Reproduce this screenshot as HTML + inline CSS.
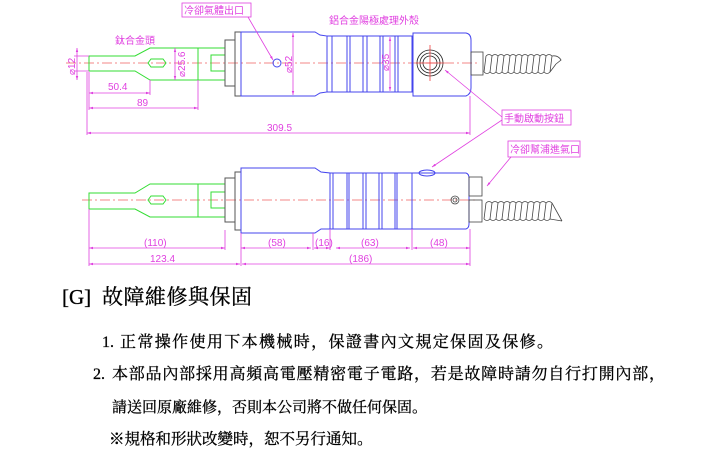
<!DOCTYPE html>
<html><head><meta charset="utf-8"><style>
html,body{margin:0;padding:0;background:#fff;}
svg{display:block;}
.m{fill:#e040e0;font-family:"Liberation Sans","Noto Sans CJK TC",sans-serif;font-size:10px;}
.t{fill:#000;font-family:"Liberation Serif","Noto Serif CJK SC","Noto Sans CJK TC",serif;stroke:#000;stroke-width:0.3;}
</style></head><body>
<svg width="712" height="459" viewBox="0 0 712 459" xmlns="http://www.w3.org/2000/svg">
<defs>
<marker id="a" viewBox="0 0 10 10" refX="10" refY="5" markerWidth="5" markerHeight="5" orient="auto-start-reverse"><path d="M0,2 L10,5 L0,8z" fill="#e040e0"/></marker>
</defs>
<!-- ========== TOP VIEW ========== -->
<line x1="66" y1="63" x2="478" y2="63" stroke="#f06060" stroke-width="0.8" stroke-dasharray="10,3,2,3"/>
<g fill="none" stroke="#33dd33" stroke-width="1">
<path d="M89,56 L135,56 L150,48 L198,48 L198,80 L150,80 L135,71 L89,71 Z"/>
<path d="M198,48 L225,48 M198,80 L225,80"/>
<path d="M151,59 L163,59 L166,63 L163,67 L151,67 L148,63 Z"/>
<path d="M225,55 L211,55 L211,71 L225,71"/>
</g>
<g fill="none" stroke="#555" stroke-width="1">
<rect x="225" y="40" width="10" height="46"/>
<rect x="235" y="32" width="6" height="64"/>
</g>
<g fill="none" stroke="#4444ee" stroke-width="1">
<path d="M241,32 L315,32 L320,35 L327,36 L327,92 L320,93 L315,96 L241,96 Z"/>
<path d="M327,36 L413,36 L413,92 L327,92"/>
<path d="M413,33 L466,33 Q471,34 471,40 L471,88 Q471,94 466,96 L413,96 Z"/>
<path d="M332,36V92 M347,36V92 M350,36V92 M363,36V92 M367,36V92 M380,36V92 M383,36V92 M395,36V92 M398,36V92 M412,36V92"/>
<circle cx="277" cy="63" r="4"/>
</g>
<g stroke="#222" fill="none" stroke-width="0.8">
<circle cx="430" cy="63" r="13"/><circle cx="430" cy="63" r="10"/><circle cx="430" cy="63" r="7"/>
</g>
<path d="M430,45 V81 M416,63 H444" stroke="#f04040" stroke-width="0.8"/>
<g fill="none" stroke="#444" stroke-width="0.8">
<rect x="471" y="52" width="12" height="23"/>
<path d="M486,56 l-2,16 M492,56 l-2,16 M498,56 l-2,16 M504,56 l-2,16 M510,56 l-2,16 M516,56 l-2,16 M522,56 l-2,16 M528,56 l-2,16 M534,56 l-2,16 M540,56 l-2,16 M546,56 l-2,16 M552,56 l-2,16"/>
<path d="M486,56 Q489,53 492,56 Q495,53 498,56 Q501,53 504,56 Q507,53 510,56 Q513,53 516,56 Q519,53 522,56 Q525,53 528,56 Q531,53 534,56 Q537,53 540,56 Q543,53 546,56 Q549,53 552,56 Q558,55 561,60 L556,64"/>
<path d="M484,72 Q487,75 490,72 Q493,75 496,72 Q499,75 502,72 Q505,75 508,72 Q511,75 514,72 Q517,75 520,72 Q523,75 526,72 Q529,75 532,72 Q535,75 538,72 Q541,75 544,72 Q547,75 550,72 L556,64"/>
</g>
<g stroke="#e040e0" stroke-width="0.8" fill="none">
<line x1="77" y1="48" x2="77" y2="80" marker-start="url(#a)" marker-end="url(#a)"/>
<path d="M74,56 H89 M74,71 H89"/>
<line x1="175" y1="48" x2="175" y2="80" marker-start="url(#a)" marker-end="url(#a)"/>
<line x1="293" y1="33" x2="293" y2="95" marker-start="url(#a)" marker-end="url(#a)"/>
<line x1="390" y1="37" x2="390" y2="91" marker-start="url(#a)" marker-end="url(#a)"/>
<path d="M89,72 V110 M150,80 V95 M198,80 V110 M87,72 V135 M470,96 V135"/>
<line x1="89" y1="93" x2="150" y2="93" marker-start="url(#a)" marker-end="url(#a)"/>
<line x1="89" y1="108" x2="198" y2="108" marker-start="url(#a)" marker-end="url(#a)"/>
<line x1="87" y1="133" x2="470" y2="133" marker-start="url(#a)" marker-end="url(#a)"/>
<rect x="182" y="3" width="69" height="14"/>
<line x1="248" y1="17" x2="273" y2="60" marker-end="url(#a)"/>
<rect x="502" y="110" width="69" height="15"/>
<line x1="502" y1="117" x2="445" y2="70" marker-end="url(#a)"/>
<line x1="502" y1="120" x2="432" y2="167" marker-end="url(#a)"/>
<rect x="508" y="141" width="72" height="16"/>
<line x1="511" y1="157" x2="487" y2="186" marker-end="url(#a)"/>
</g>
<text class="m" x="184" y="14" font-size="11">冷卻氣體出口</text>
<text class="m" x="115" y="44" font-size="11">鈦合金頭</text>
<text class="m" x="329" y="24" font-size="11">鋁合金陽極處理外殼</text>
<text class="m" x="504" y="122" font-size="11">手動啟動按鈕</text>
<text class="m" x="510" y="153" font-size="11">冷卻幫浦進氣口</text>
<text class="m" x="108" y="90">50.4</text>
<text class="m" x="137" y="106">89</text>
<text class="m" x="267" y="131">309.5</text>
<text class="m" transform="translate(75,75) rotate(-90)">⌀12</text>
<text class="m" transform="translate(185,77) rotate(-90)">⌀25.6</text>
<text class="m" transform="translate(292,73) rotate(-90)">⌀52</text>
<text class="m" transform="translate(389,71) rotate(-90)">⌀35</text>
<!-- ========== BOTTOM VIEW ========== -->
<line x1="82" y1="200" x2="478" y2="200" stroke="#f06060" stroke-width="0.8" stroke-dasharray="10,3,2,3"/>
<g fill="none" stroke="#33dd33" stroke-width="1">
<path d="M89,193 L135,193 L150,184 L198,184 L198,217 L150,217 L135,209 L89,209 Z"/>
<path d="M198,184 L225,184 M198,217 L225,217"/>
<path d="M151,196 L163,196 L166,200 L163,204 L151,204 L148,200 Z"/>
<path d="M225,192 L211,192 L211,208 L225,208"/>
</g>
<g fill="none" stroke="#555" stroke-width="1">
<rect x="225" y="178" width="10" height="44"/>
<rect x="235" y="172" width="6" height="58"/>
</g>
<g fill="none" stroke="#4444ee" stroke-width="1">
<path d="M241,168 L315,168 L321,172 L330,173 L330,229 L321,229 L315,233 L241,233 Z"/>
<path d="M330,173 L466,173 Q469,174 469,178 L469,224 Q469,228 466,229 L330,229"/>
<path d="M333,173V229 M347,173V229 M349,173V229 M363,173V229 M366,173V229 M379,173V229 M382,173V229 M395,173V229 M397,173V229 M412,173V229"/>
<ellipse cx="427" cy="173" rx="8" ry="3"/>
</g>
<g fill="none" stroke="#444" stroke-width="0.8">
<circle cx="455" cy="200" r="4"/><circle cx="455" cy="200" r="2"/>
<rect x="469" y="177" width="13" height="19"/>
<rect x="469" y="200" width="13" height="22"/>
<path d="M486,203 l-2,16 M492,203 l-2,16 M498,203 l-2,16 M504,203 l-2,16 M510,203 l-2,16 M516,203 l-2,16 M522,203 l-2,16 M528,203 l-2,16 M534,203 l-2,16 M540,203 l-2,16 M546,203 l-2,16 M552,203 l-2,16"/>
<path d="M486,203 Q489,200 492,203 Q495,200 498,203 Q501,200 504,203 Q507,200 510,203 Q513,200 516,203 Q519,200 522,203 Q525,200 528,203 Q531,200 534,203 Q537,200 540,203 Q543,200 546,203 Q549,200 552,203 L562,221"/>
<path d="M484,219 Q487,222 490,219 Q493,222 496,219 Q499,222 502,219 Q505,222 508,219 Q511,222 514,219 Q517,222 520,219 Q523,222 526,219 Q529,222 532,219 Q535,222 538,219 Q541,222 544,219 Q547,222 550,219 L562,221"/>
</g>
<g stroke="#e040e0" stroke-width="0.8" fill="none">
<path d="M89,209 V266 M225,230 V250 M241,233 V266 M470,229 V266 M412,229 V250 M330,229 V250 M313,233 V250"/>
<line x1="89" y1="248" x2="225" y2="248" marker-start="url(#a)" marker-end="url(#a)"/>
<line x1="241" y1="248" x2="311" y2="248" marker-start="url(#a)" marker-end="url(#a)"/>
<line x1="314" y1="248" x2="330" y2="248" marker-start="url(#a)" marker-end="url(#a)"/>
<line x1="336" y1="248" x2="410" y2="248" marker-start="url(#a)" marker-end="url(#a)"/>
<line x1="413" y1="248" x2="470" y2="248" marker-start="url(#a)" marker-end="url(#a)"/>
<line x1="89" y1="264" x2="240" y2="264" marker-start="url(#a)" marker-end="url(#a)"/>
<line x1="242" y1="264" x2="470" y2="264" marker-start="url(#a)" marker-end="url(#a)"/>
</g>
<text class="m" x="144" y="246">(110)</text>
<text class="m" x="268" y="246">(58)</text>
<text class="m" x="315" y="246">(16)</text>
<text class="m" x="361" y="246">(63)</text>
<text class="m" x="430" y="246">(48)</text>
<text class="m" x="150" y="262">123.4</text>
<text class="m" x="349" y="262">(186)</text>
<!-- ========== TEXT ========== -->
<text class="t" x="62" y="304" font-size="21">[G]</text>
<text class="t" x="102" y="304" font-size="21" textLength="150" lengthAdjust="spacing">故障維修與保固</text>
<text class="t" x="102" y="347" font-size="16">1.</text>
<text class="t" x="120" y="347" font-size="16" textLength="433" lengthAdjust="spacing">正常操作使用下本機械時，保證書內文規定保固及保修。</text>
<text class="t" x="93" y="379" font-size="16">2.</text>
<text class="t" x="112" y="379" font-size="16" textLength="553" lengthAdjust="spacing">本部品內部採用高頻高電壓精密電子電路，若是故障時請勿自行打開內部，</text>
<text class="t" x="112" y="412" font-size="15">請送回原廠維修，否則本公司將不做任何保固。</text>
<text class="t" x="109" y="444" font-size="15.5">※規格和形狀改變時，恕不另行通知。</text>
</svg>
</body></html>
